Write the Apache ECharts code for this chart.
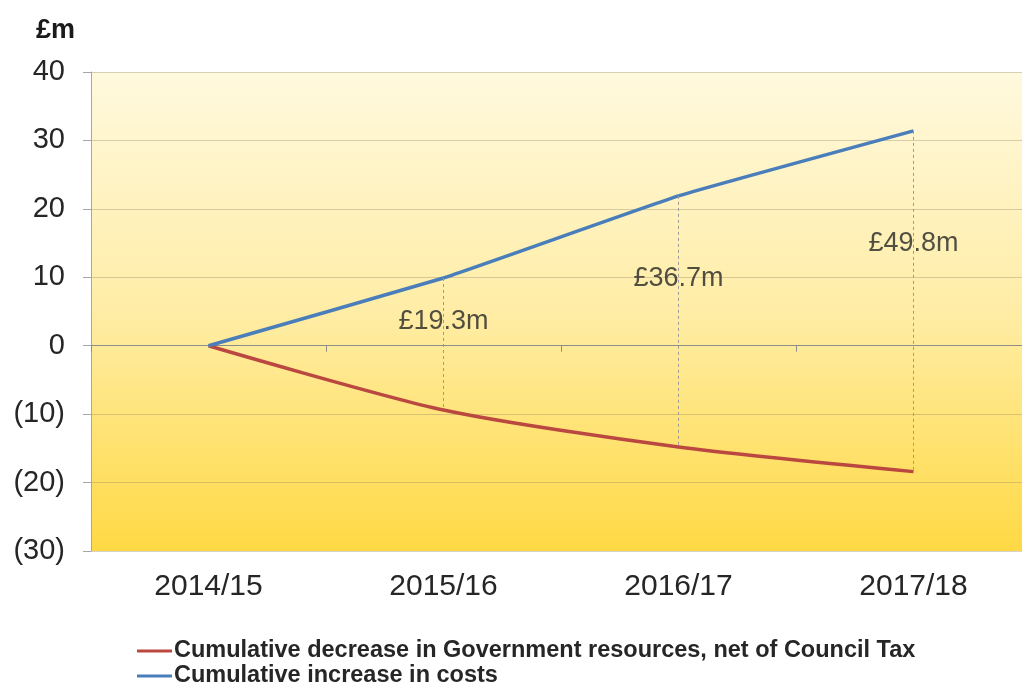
<!DOCTYPE html>
<html>
<head>
<meta charset="utf-8">
<script src="https://cdn.jsdelivr.net/npm/echarts@6/dist/echarts.min.js"></script>
<style>
html,body{margin:0;padding:0;background:#fff;overflow:hidden;}
#chart{width:1031px;height:693px;}
</style>
</head>
<body>
<div id="chart"></div>
<script>
var categories = ['2014/15', '2015/16', '2016/17', '2017/18'];
var govDecrease = [0, -9.4, -14.8, -18.4];
var costIncrease = [0, 9.9, 21.9, 31.4];
var yTicks = [-30, -20, -10, 0, 10, 20, 30, 40];
var seriesNames = ['Cumulative decrease in Government resources, net of Council Tax', 'Cumulative increase in costs'];

var gapLabels = [];
var gapLines = [];
for (var i = 1; i < categories.length; i++) {
  var gap = costIncrease[i] - govDecrease[i];
  gapLabels.push({
    value: [i, govDecrease[i] + gap * 0.67],
    label: { formatter: '£' + gap.toFixed(1) + 'm' }
  });
  gapLines.push([{ coord: [i, costIncrease[i]] }, { coord: [i, govDecrease[i]] }]);
}

var FONT = 'Liberation Sans, Arial, sans-serif';
var legendText = { fontFamily: FONT, fontWeight: 'bold', fontSize: 23.5, color: '#262626', padding: [0, 0, 0, -3] };

var chart = echarts.init(document.getElementById('chart'));
chart.setOption({
  animation: false,
  backgroundColor: '#ffffff',
  title: {
    text: '£m', left: 31, top: 12,
    textStyle: { fontFamily: FONT, fontWeight: 'bold', fontSize: 27, color: '#1a1a1a' }
  },
  grid: {
    left: 91, top: 72, right: 0, height: 479,
    show: true, borderWidth: 0,
    backgroundColor: {
      type: 'linear', x: 0, y: 0, x2: 0, y2: 1,
      colorStops: [
        { offset: 0, color: '#FFF9DE' },
        { offset: 0.5, color: '#FFEDA6' },
        { offset: 1, color: '#FFD944' }
      ]
    }
  },
  legend: [{
    left: 132, top: 634, padding: 5,
    itemWidth: 35, itemHeight: 3, icon: 'rect',
    data: [seriesNames[0]], textStyle: legendText
  }, {
    left: 132, top: 659, padding: 5,
    itemWidth: 35, itemHeight: 3, icon: 'rect',
    data: [seriesNames[1]], textStyle: legendText
  }],
  xAxis: [{
    type: 'category', data: categories, boundaryGap: true, position: 'bottom',
    axisLine: { show: false, onZero: false }, axisTick: { show: false },
    axisLabel: { margin: 21, fontFamily: FONT, fontSize: 30, color: '#262626' }
  }, {
    type: 'category', data: categories, boundaryGap: true, position: 'bottom',
    axisLine: { show: true, onZero: true, lineStyle: { color: '#8c8c8c', width: 1 } },
    axisTick: { show: true, length: 6, lineStyle: { color: '#8c8c8c' } },
    axisLabel: { show: false }
  }],
  yAxis: {
    type: 'value', min: -30, max: 40, interval: 10,
    axisLine: { show: true, lineStyle: { color: '#a6a6a6' } },
    axisTick: { show: true, length: 8, lineStyle: { color: '#a6a6a6' } },
    splitLine: { show: true, lineStyle: { color: 'rgba(140,130,100,0.35)', width: 1 } },
    axisLabel: {
      margin: 26, fontFamily: FONT, fontSize: 29, color: '#262626',
      formatter: function (v) { return yTicks.indexOf(v) < 0 ? '' : (v < 0 ? '(' + (-v) + ')' : String(v)); }
    }
  },
  series: [{
    name: seriesNames[0], type: 'line', data: govDecrease, xAxisIndex: 0,
    smooth: 0.25, showSymbol: false, symbol: 'none',
    lineStyle: { color: '#BA4840', width: 3.5 }, itemStyle: { color: '#BA4840' }, z: 3
  }, {
    name: seriesNames[1], type: 'line', data: costIncrease, xAxisIndex: 0,
    smooth: 0.1, showSymbol: false, symbol: 'none',
    lineStyle: { color: '#4A7EBB', width: 3.5 }, itemStyle: { color: '#4A7EBB' }, z: 3,
    markLine: {
      silent: true, symbol: 'none', label: { show: false },
      lineStyle: { color: '#9a9a9a', type: [3, 3], width: 1 },
      data: gapLines
    }
  }, {
    name: 'gaps', type: 'scatter', data: gapLabels, xAxisIndex: 0,
    symbolSize: 1, itemStyle: { color: 'rgba(0,0,0,0)' }, silent: true,
    label: { show: true, position: 'inside', fontFamily: FONT, fontSize: 27, color: '#262626' }
  }]
});
</script>
</body>
</html>
